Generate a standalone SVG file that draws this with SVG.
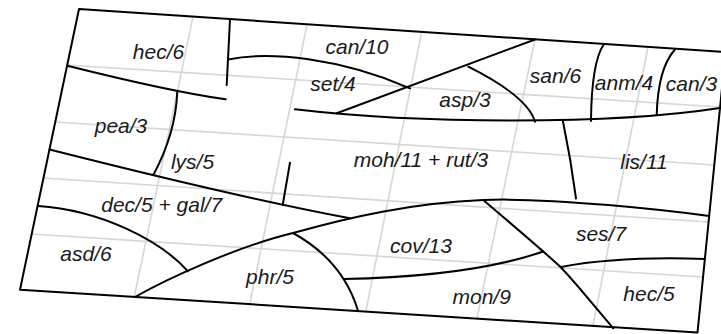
<svg xmlns="http://www.w3.org/2000/svg" width="721" height="334" viewBox="0 0 721 334">
<style>
.grid{stroke:#d6d6d6;stroke-width:1.6;fill:none}
.b{stroke:#000;stroke-width:2;fill:none;stroke-linecap:round;stroke-linejoin:round}
.t{font-family:"Liberation Sans",Arial,sans-serif;font-style:italic;font-size:21px;fill:#1a1a1a;text-anchor:middle}
</style>
<rect width="721" height="334" fill="#fff"/>
<g id="grid">
<line class="grid" x1="67" y1="65" x2="720.3" y2="107"/>
<line class="grid" x1="55.3" y1="122" x2="714.4" y2="165"/>
<line class="grid" x1="43.5" y1="178" x2="708.8" y2="222"/>
<line class="grid" x1="31.8" y1="234" x2="703.3" y2="277"/>
<line class="grid" x1="193" y1="16.6" x2="134.3" y2="296.7"/>
<line class="grid" x1="307" y1="24.5" x2="250" y2="303"/>
<line class="grid" x1="421.7" y1="31.8" x2="366" y2="310.6"/>
<line class="grid" x1="535" y1="39.3" x2="477" y2="318"/>
<line class="grid" x1="648" y1="46.8" x2="593" y2="325"/>
</g>
<g id="outline">
<polygon class="b" points="79,9 725.6,52 697.5,332.5 20,289.7"/>
</g>
<g id="boundaries">
<path class="b" d="M230,19.2 L226.7,85"/>
<path class="b" d="M67.3,65.7 Q171,91.6 225.7,99.3"/>
<path class="b" d="M177.3,91.7 Q175.7,133.3 153.3,175"/>
<path class="b" d="M228,59.5 C270,51 340,58 410,88.3"/>
<path class="b" d="M535,39.5 L336.7,113.3"/>
<path class="b" d="M295,109.3 C420,124 610,125 720,108"/>
<path class="b" d="M468.3,66.7 Q527.4,96.2 535,121.7"/>
<path class="b" d="M604,44 Q591.5,62 591,121"/>
<path class="b" d="M675,49.5 Q658,68 656.7,115"/>
<path class="b" d="M563,121.5 Q571,160 576,198.5"/>
<path class="b" d="M49.5,149.5 Q239,197.5 350,218.3"/>
<path class="b" d="M290,162.7 L282.7,205"/>
<path class="b" d="M135,297 C165,280 235,247 293,233 C351,216.8 413.5,202.8 483,200 C552.5,197.2 672,211 709.2,216"/>
<path class="b" d="M38,206 C100,210 160,240 188,271.3"/>
<path class="b" d="M293,233 Q342.8,260.4 358,310.7"/>
<path class="b" d="M343.5,279 Q471,276.5 543.3,251.5"/>
<path class="b" d="M483.3,200 C510,223 540,248 560,266.5 C577,284 596,308.5 613.3,328.3"/>
<path class="b" d="M561,267 Q620,256 705,259"/>
</g>
<g id="labels">
<text class="t" x="158.5" y="59">hec/6</text>
<text class="t" x="357" y="54">can/10</text>
<text class="t" x="333" y="91">set/4</text>
<text class="t" x="465" y="106.5">asp/3</text>
<text class="t" x="555.5" y="83.3">san/6</text>
<text class="t" x="624" y="89.5">anm/4</text>
<text class="t" x="691.5" y="90.5">can/3</text>
<text class="t" x="121" y="133">pea/3</text>
<text class="t" x="192.5" y="169">lys/5</text>
<text class="t" x="421" y="167.3">moh/11 + rut/3</text>
<text class="t" x="644" y="169">lis/11</text>
<text class="t" x="161.7" y="212.3">dec/5 + gal/7</text>
<text class="t" x="86" y="261.3">asd/6</text>
<text class="t" x="270" y="284">phr/5</text>
<text class="t" x="421" y="252.7">cov/13</text>
<text class="t" x="481.7" y="304">mon/9</text>
<text class="t" x="601" y="241">ses/7</text>
<text class="t" x="649" y="300.7">hec/5</text>
</g>
</svg>
